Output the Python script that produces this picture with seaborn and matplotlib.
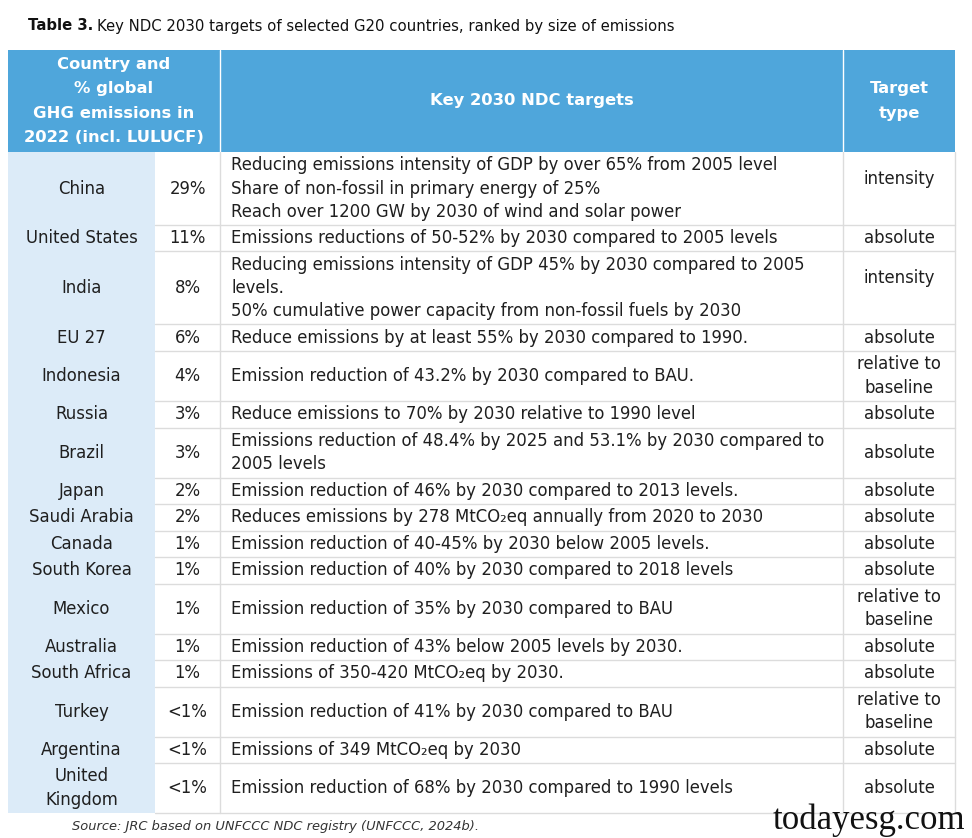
import matplotlib.pyplot as plt
import matplotlib.patches as mpatches
import seaborn as sns

# table content
countries = ["China", "United States", "India", "EU 27", "Indonesia", "Russia", "Brazil",
             "Japan", "Saudi Arabia", "Canada", "South Korea", "Mexico", "Australia",
             "South Africa", "Turkey", "Argentina", "United\nKingdom"]
shares = ["29%", "11%", "8%", "6%", "4%", "3%", "3%", "2%", "2%", "1%", "1%", "1%", "1%",
          "1%", "<1%", "<1%", "<1%"]
targets = [
    "Reducing emissions intensity of GDP by over 65% from 2005 level\n"
    "Share of non-fossil in primary energy of 25%\n"
    "Reach over 1200 GW by 2030 of wind and solar power",
    "Emissions reductions of 50-52% by 2030 compared to 2005 levels",
    "Reducing emissions intensity of GDP 45% by 2030 compared to 2005\n"
    "levels.\n"
    "50% cumulative power capacity from non-fossil fuels by 2030",
    "Reduce emissions by at least 55% by 2030 compared to 1990.",
    "Emission reduction of 43.2% by 2030 compared to BAU.",
    "Reduce emissions to 70% by 2030 relative to 1990 level",
    "Emissions reduction of 48.4% by 2025 and 53.1% by 2030 compared to\n2005 levels",
    "Emission reduction of 46% by 2030 compared to 2013 levels.",
    "Reduces emissions by 278 MtCO\u2082eq annually from 2020 to 2030",
    "Emission reduction of 40-45% by 2030 below 2005 levels.",
    "Emission reduction of 40% by 2030 compared to 2018 levels",
    "Emission reduction of 35% by 2030 compared to BAU",
    "Emission reduction of 43% below 2005 levels by 2030.",
    "Emissions of 350-420 MtCO\u2082eq by 2030.",
    "Emission reduction of 41% by 2030 compared to BAU",
    "Emissions of 349 MtCO\u2082eq by 2030",
    "Emission reduction of 68% by 2030 compared to 1990 levels",
]
types = ["intensity", "absolute", "intensity", "absolute", "relative to\nbaseline", "absolute",
         "absolute", "absolute", "absolute", "absolute", "absolute", "relative to\nbaseline",
         "absolute", "absolute", "relative to\nbaseline", "absolute", "absolute"]

header_left = "Country and\n% global\nGHG emissions in\n2022 (incl. LULUCF)"
header_mid = "Key 2030 NDC targets"
header_right = "Target\ntype"

sns.set_theme(style="white")
plt.rcParams['font.family'] = ['DejaVu Sans']

W, H = 972, 838
fig = plt.figure(figsize=(W / 100, H / 100), dpi=100)
ax = fig.add_axes([0, 0, 1, 1])
ax.set_xlim(0, W)
ax.set_ylim(H, 0)
ax.axis("off")

blue = "#4fa6db"
light = "#dcebf8"
grid = "#dcdcdc"
txt = "#1f1f1f"
fs = 11.9
ls = 1.38

# column edges
x0, x1, x2, x3, x4 = 8, 155, 220, 843, 955
top, head_bot = 50, 152

# title (bold part + regular part)
t1 = ax.text(28, 26, "Table 3.", fontsize=10.7, fontweight="bold", va="center", color="#111")
fig.canvas.draw()
bb = t1.get_window_extent()
ax.text(28 + bb.width + 4, 26, "Key NDC 2030 targets of selected G20 countries, ranked by size of emissions",
        fontsize=10.7, va="center", color="#111")

# header
ax.add_patch(mpatches.Rectangle((x0, top), x4 - x0, head_bot - top, color=blue, lw=0))
for xv in (x2, x3):
    ax.plot([xv, xv], [top, head_bot], color="white", lw=1)
hkw = dict(fontsize=11.8, fontweight="bold", color="white", ha="center", va="center", linespacing=1.8)
ax.text((x0 + x2) / 2, (top + head_bot) / 2, header_left, **hkw)
ax.text((x2 + x3) / 2, (top + head_bot) / 2, header_mid, **hkw)
ax.text((x3 + x4) / 2, (top + head_bot) / 2, header_right, **hkw)

# row heights from the number of text lines
nlines = [max(c.count("\n"), t.count("\n"), k.count("\n")) + 1
          for c, t, k in zip(countries, targets, types)]
heights = [{1: 26.5, 2: 50, 3: 73}[n] for n in nlines]

y = head_bot
ax.add_patch(mpatches.Rectangle((x0, y), x1 - x0, sum(heights), color=light, lw=0))
for c, s, t, k, h, n in zip(countries, shares, targets, types, heights, nlines):
    yc = y + h / 2
    ax.text((x0 + x1) / 2, yc, c, fontsize=fs, ha="center", va="center", color=txt, linespacing=ls)
    ax.text((x1 + x2) / 2, yc, s, fontsize=fs, ha="center", va="center", color=txt)
    ax.text(x2 + 11, yc, t, fontsize=fs, ha="left", va="center", color=txt, linespacing=ls)
    ky = yc - 10 if n == 3 else yc
    ax.text((x3 + x4) / 2, ky, k, fontsize=fs, ha="center", va="center", color=txt, linespacing=ls)
    y += h
    ax.plot([x1, x4], [y, y], color=grid, lw=1)

for xv in (x2, x3, x4):
    ax.plot([xv, xv], [head_bot, y], color=grid, lw=1)

ax.text(72, 826, "Source: JRC based on UNFCCC NDC registry (UNFCCC, 2024b).",
        fontsize=9.35, style="italic", va="center", color="#333")
ax.text(965, 820, "todayesg.com", fontsize=25, family="Liberation Serif",
        ha="right", va="center", color="#111")

fig.savefig("out.png", dpi=100)
